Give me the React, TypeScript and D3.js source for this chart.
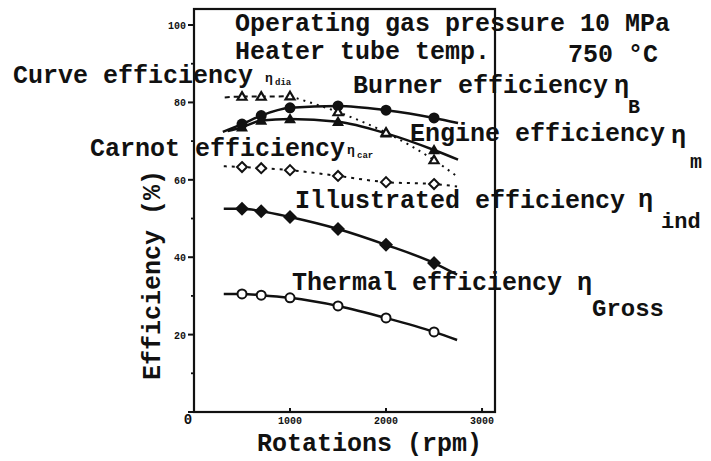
import React from 'react';
import * as d3 from 'd3';

// measured points (rpm) and efficiencies (%)
const rpm = [500, 700, 1000, 1500, 2000, 2500];
const thermal = [30.5, 30.2, 29.5, 27.4, 24.3, 20.7];
const indicated = [52.5, 51.9, 50.4, 47.3, 43.2, 38.5];
const carnot = [63.3, 63.0, 62.5, 61.0, 59.4, 58.9];
const burner = [74.4, 76.6, 78.6, 79.1, 78.0, 76.0];
const engine = [73.6, 75.3, 75.7, 75.0, 72.0, 67.7];
const curveEff = [81.5, 81.5, 81.6, 77.5, 72.2, 65.1];

// where each hand-drawn curve starts and stops [rpm, %]
const thermalEnds = [[310, 30.5], [2740, 18.6]];
const indicatedEnds = [[310, 52.5], [2740, 35.5]];
const carnotEnds = [[310, 63.5], [2740, 58.3]];
const burnerEnds = [[300, 72.4], [2750, 74.7]];
const engineEnds = [[350, 72.6], [2750, 65.2]];
const curveEffEnds = [[320, 81.3], [2750, 60.7]];

const yTicks = [0, 20, 40, 60, 80, 100];
const yMinor = [10, 30, 50, 70, 90];
const xTicks = [1000, 2000, 3000];

const FONT = '"Liberation Mono", "DejaVu Sans Mono", monospace';

const x = d3.scaleLinear().domain([0, 3135]).range([194, 495]);
const y = d3.scaleLinear().domain([0, 104.4]).range([412, 8]);

const line = d3
  .line<number[]>()
  .x(d => x(d[0]))
  .y(d => y(d[1]))
  .curve(d3.curveMonotoneX);

const pts = (vals: number[], ends: number[][]) => [ends[0], ...rpm.map((r, i) => [r, vals[i]]), ends[1]];

const diamond = (cx: number, cy: number, s: number) =>
  `M${cx},${cy - s}L${cx + s},${cy}L${cx},${cy + s}L${cx - s},${cy}Z`;
const triangle = (cx: number, cy: number, s: number) =>
  `M${cx},${cy - s}L${cx + s},${cy + s * 0.7}L${cx - s},${cy + s * 0.7}Z`;

function Marker({ type, cx, cy }: { type: string; cx: number; cy: number }) {
  if (type === 'openCircle')
    return <circle cx={cx} cy={cy} r={4.5} fill="#fff" stroke="#111" strokeWidth={2} />;
  if (type === 'dot') return <circle cx={cx} cy={cy} r={5.5} fill="#111" />;
  if (type === 'fillDiamond') return <path d={diamond(cx, cy, 7)} fill="#111" />;
  if (type === 'openDiamond')
    return <path d={diamond(cx, cy, 5)} fill="#fff" stroke="#111" strokeWidth={2} />;
  if (type === 'fillTri') return <path d={triangle(cx, cy, 6)} fill="#111" />;
  return <path d={triangle(cx, cy, 4.5)} fill="#fff" stroke="#111" strokeWidth={2.2} />;
}

const series = [
  { vals: thermal, ends: thermalEnds, marker: 'openCircle', dash: 'none' },
  { vals: indicated, ends: indicatedEnds, marker: 'fillDiamond', dash: 'none' },
  { vals: carnot, ends: carnotEnds, marker: 'openDiamond', dash: '3,5' },
  { vals: burner, ends: burnerEnds, marker: 'dot', dash: 'none' },
  { vals: engine, ends: engineEnds, marker: 'fillTri', dash: 'none' },
];

export default function App() {
  const cPts = pts(curveEff, curveEffEnds);
  const txt = { fontFamily: FONT, fontWeight: 700, fill: '#111' } as const;
  return (
    <div style={{ position: 'absolute', left: 0, top: 0 }}>
      <svg width={711} height={461} style={{ display: 'block', background: '#fff' }}>
        {/* frame */}
        <rect x={x(0)} y={9} width={x(3135) - x(0)} height={y(0) - 9} fill="none" stroke="#111" strokeWidth={2.2} />

        {yTicks.map(t => (
          <g key={'y' + t}>
            <line x1={x(0) - 6} x2={x(0)} y1={y(t)} y2={y(t)} stroke="#111" strokeWidth={2} />
            {t > 0 && (
              <text x={x(0) - 8} y={y(t) + 4} textAnchor="end" fontSize={10} {...txt}>
                {t}
              </text>
            )}
          </g>
        ))}
        {yMinor.map(t => (
          <line key={'m' + t} x1={x(0) - 3} x2={x(0)} y1={y(t)} y2={y(t)} stroke="#111" strokeWidth={1.8} />
        ))}
        <text x={188} y={424} textAnchor="middle" fontSize={14} {...txt}>0</text>
        {xTicks.map(t => (
          <g key={'x' + t}>
            <line x1={x(t)} x2={x(t)} y1={y(0) - 4} y2={y(0)} stroke="#111" strokeWidth={2} />
            <text x={x(t)} y={424} textAnchor="middle" fontSize={10} {...txt}>
              {t}
            </text>
          </g>
        ))}

        {series.map((s, i) => {
          const p = pts(s.vals, s.ends);
          return (
            <g key={i}>
              <path d={line(p) || ''} fill="none" stroke="#111" strokeWidth={s.dash === 'none' ? 2.5 : 2} strokeDasharray={s.dash} />
              {rpm.map((r, j) => (
                <Marker key={j} type={s.marker} cx={x(r)} cy={y(s.vals[j])} />
              ))}
            </g>
          );
        })}

        {/* curve efficiency: dashed at low speed, dotted after */}
        <path d={line(cPts.slice(0, 4)) || ''} fill="none" stroke="#111" strokeWidth={2} strokeDasharray="5,4" />
        <path d={line(cPts.slice(3)) || ''} fill="none" stroke="#111" strokeWidth={2} strokeDasharray="2,5" />
        {rpm.map((r, j) => (
          <Marker key={'c' + j} type="openTri" cx={x(r)} cy={y(curveEff[j])} />
        ))}

        {/* annotations */}
        <g fontSize={25} {...txt}>
          <text x={235} y={31}>Operating gas pressure 10 MPa</text>
          <text x={235} y={59}>Heater tube temp.</text>
          <text x={568} y={62}>750 °C</text>

          <text x={13} y={83}>Curve efficiency</text>
          <text x={265} y={82} fontSize={13}>η</text>
          <text x={275} y={85} fontSize={9}>dia</text>

          <text x={353} y={93}>Burner efficiency</text>
          <text x={614} y={93}>η</text>
          <text x={628} y={113} fontSize={20}>B</text>

          <text x={410} y={141}>Engine efficiency</text>
          <text x={671} y={143}>η</text>
          <text x={690} y={168} fontSize={20}>m</text>

          <text x={90} y={156}>Carnot efficiency</text>
          <text x={347} y={154} fontSize={13}>η</text>
          <text x={357} y={158} fontSize={9}>car</text>

          <text x={295} y={208}>Illustrated efficiency</text>
          <text x={638} y={207}>η</text>
          <text x={661} y={228} fontSize={22}>ind</text>

          <text x={292} y={290}>Thermal efficiency</text>
          <text x={577} y={290}>η</text>
          <text x={592} y={316} fontSize={24}>Gross</text>

          <text x={257} y={451}>Rotations (rpm)</text>
          <text transform="translate(160,380) rotate(-90)">Efficiency (%)</text>
        </g>
      </svg>
    </div>
  );
}
